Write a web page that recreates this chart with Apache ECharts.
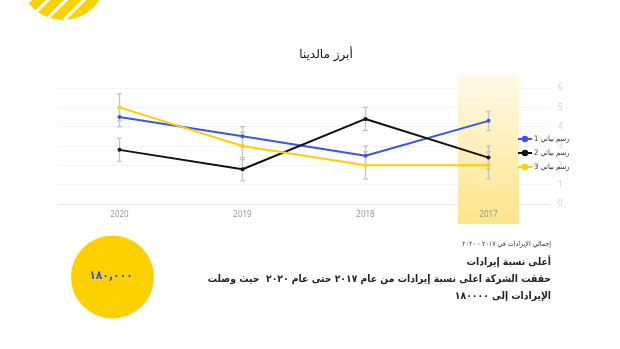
<!DOCTYPE html>
<html>
<head>
<meta charset="utf-8">
<script src="https://cdn.jsdelivr.net/npm/echarts@6/dist/echarts.min.js"></script>
<style>
html,body{margin:0;padding:0;background:#fff;}
#chart{width:620px;height:349px;direction:rtl;}
</style>
</head>
<body>
<div id="chart" dir="rtl"></div>
<script>
// ---- data ----
var years = ['2020', '2019', '2018', '2017'];
var seriesNames = ['رسم بياني 1', 'رسم بياني 2', 'رسم بياني 3'];
var values1 = [4.5, 3.5, 2.5, 4.3];
var values2 = [2.8, 1.8, 4.4, 2.4];
var values3 = [5.0, 3.0, 2.0, 2.0];
var errors1 = [0.5, 0.5, 0.5, 0.5];
var errors2 = [0.6, 0.6, 0.6, 0.6];
var errors3 = [0.7, 0.7, 0.7, 0.7];
var highlight = [null, null, null, 1];
var yTicks = [0, 1, 2, 3, 4, 5, 6];
var titleText = 'أبرز مالدينا';
var bigNumber = '١٨٠,٠٠٠';
var subTitle = 'إجمالي الإيرادات في ٢٠١٧ - ٢٠٢٠';
var headLine = 'أعلى نسبة إيرادات';
var bodyLine1 = 'حققت الشركة اعلى نسبة إيرادات من عام ٢٠١٧ حتى عام ٢٠٢٠  حيث وصلت';
var bodyLine2 = 'الإيرادات إلى ١٨٠٠٠٠';

var colors = ['#3B55E6', '#111111', '#FFD000'];
var AR = '"DejaVu Sans", sans-serif';
var ARC = '"DejaVu Sans Condensed", "DejaVu Sans", sans-serif';
var LAT = '"Noto Sans", "Open Sans", sans-serif';

function errData(vals, errs) {
  return vals.map(function (v, i) { return [i, v - errs[i], v + errs[i]]; });
}
function errSeries(vals, errs) {
  return {
    type: 'custom', xAxisIndex: 0, yAxisIndex: 0, z: 1, silent: true,
    data: errData(vals, errs),
    renderItem: function (params, api) {
      var lo = api.coord([api.value(0), api.value(1)]);
      var hi = api.coord([api.value(0), api.value(2)]);
      var w = 2.5;
      var st = { stroke: '#c4c4c4', lineWidth: 1.3 };
      return {
        type: 'group', children: [
          { type: 'line', shape: { x1: lo[0], y1: lo[1], x2: hi[0], y2: hi[1] }, style: st },
          { type: 'line', shape: { x1: lo[0] - w, y1: lo[1], x2: lo[0] + w, y2: lo[1] }, style: st },
          { type: 'line', shape: { x1: hi[0] - w, y1: hi[1], x2: hi[0] + w, y2: hi[1] }, style: st }
        ]
      };
    }
  };
}
function lineSeries(name, vals, color) {
  return {
    type: 'line', name: name, data: vals, xAxisIndex: 0, yAxisIndex: 0, z: 3,
    symbol: 'circle', symbolSize: 4, showSymbol: true,
    lineStyle: { color: color, width: 2 }, itemStyle: { color: color }
  };
}

// decorative striped circle (top-left)
var deco = [];
var dcx = 63, dcy = -23, dr = 43;
deco.push({ type: 'circle', shape: { cx: dcx, cy: dcy, r: dr }, style: { fill: '#FFD000' }, silent: true });
[30, 48, 66, 84, 102].forEach(function (c) {
  var a = 2, b = -2 * dcx - 2 * (c - dcy), cc = dcx * dcx + (c - dcy) * (c - dcy) - dr * dr;
  var disc = b * b - 4 * a * cc;
  if (disc <= 0) return;
  var t1 = (-b - Math.sqrt(disc)) / (2 * a), t2 = (-b + Math.sqrt(disc)) / (2 * a);
  deco.push({ type: 'line', silent: true, shape: { x1: t1, y1: c - t1, x2: t2, y2: c - t2 }, style: { stroke: '#fff', lineWidth: 3.2 } });
});

var chart = echarts.init(document.getElementById('chart'));
chart.setOption({
  animation: false,
  backgroundColor: '#ffffff',
  title: {
    text: titleText, left: 321, top: 44, textAlign: 'center',
    textStyle: { fontFamily: AR, fontSize: 12, fontWeight: 'normal', color: '#111' }
  },
  legend: {
    data: seriesNames, orient: 'vertical', left: 517, top: 135, padding: 0,
    itemWidth: 14, itemHeight: 8, itemGap: 6,
    textStyle: { fontFamily: ARC, fontSize: 7.5, color: '#333', padding: [0, 0, 0, -3] }
  },
  grid: [
    { left: 58, right: 70, top: 88, bottom: 145 },
    { left: 58, right: 70, top: 75, bottom: 125 }
  ],
  xAxis: [
    {
      type: 'category', data: years, gridIndex: 0,
      axisLine: { lineStyle: { color: '#e6e6e6' } }, axisTick: { show: false },
      axisLabel: { color: '#9a9a9a', fontFamily: LAT, fontSize: 8, margin: 7 }
    },
    { type: 'category', data: years, gridIndex: 1, show: false }
  ],
  yAxis: [
    {
      type: 'value', gridIndex: 0, position: 'right', min: yTicks[0], max: yTicks[yTicks.length - 1], interval: 1,
      axisLine: { show: false }, axisTick: { show: false },
      splitLine: { lineStyle: { color: '#f4f4f4' } },
      axisLabel: { color: '#cfcfcf', fontFamily: LAT, fontSize: 8, margin: 8 }
    },
    { type: 'value', gridIndex: 1, min: 0, max: 1, show: false }
  ],
  series: [
    {
      type: 'bar', xAxisIndex: 1, yAxisIndex: 1, data: highlight, barWidth: '50%', z: 0, silent: true,
      itemStyle: {
        color: { type: 'linear', x: 0, y: 0, x2: 0, y2: 1, colorStops: [
          { offset: 0, color: '#FFF9E6' }, { offset: 1, color: '#FDE48A' }
        ] }
      }
    },
    errSeries(values1, errors1),
    errSeries(values2, errors2),
    errSeries(values3, errors3),
    lineSeries(seriesNames[0], values1, colors[0]),
    lineSeries(seriesNames[1], values2, colors[1]),
    lineSeries(seriesNames[2], values3, colors[2])
  ],
  graphic: deco.concat([
    { type: 'circle', shape: { cx: 112.5, cy: 277, r: 41.5 }, style: { fill: '#FFD000' }, silent: true },
    { type: 'text', x: 111, y: 276, z: 10, style: { text: bigNumber, fill: '#3450E0', font: 'bold 12px ' + ARC, textAlign: 'center', textVerticalAlign: 'middle' } },
    { type: 'text', x: 551, y: 244, style: { text: subTitle, fill: '#333', font: '7px ' + ARC, textAlign: 'right', textVerticalAlign: 'middle' } },
    { type: 'text', x: 551, y: 262, style: { text: headLine, fill: '#222', font: 'bold 10.3px ' + ARC, textAlign: 'right', textVerticalAlign: 'middle' } },
    { type: 'text', x: 551, y: 279, style: { text: bodyLine1, fill: '#222', font: 'bold 10.3px ' + ARC, textAlign: 'right', textVerticalAlign: 'middle' } },
    { type: 'text', x: 551, y: 296, style: { text: bodyLine2, fill: '#222', font: 'bold 10.3px ' + ARC, textAlign: 'right', textVerticalAlign: 'middle' } }
  ])
});
</script>
</body>
</html>
